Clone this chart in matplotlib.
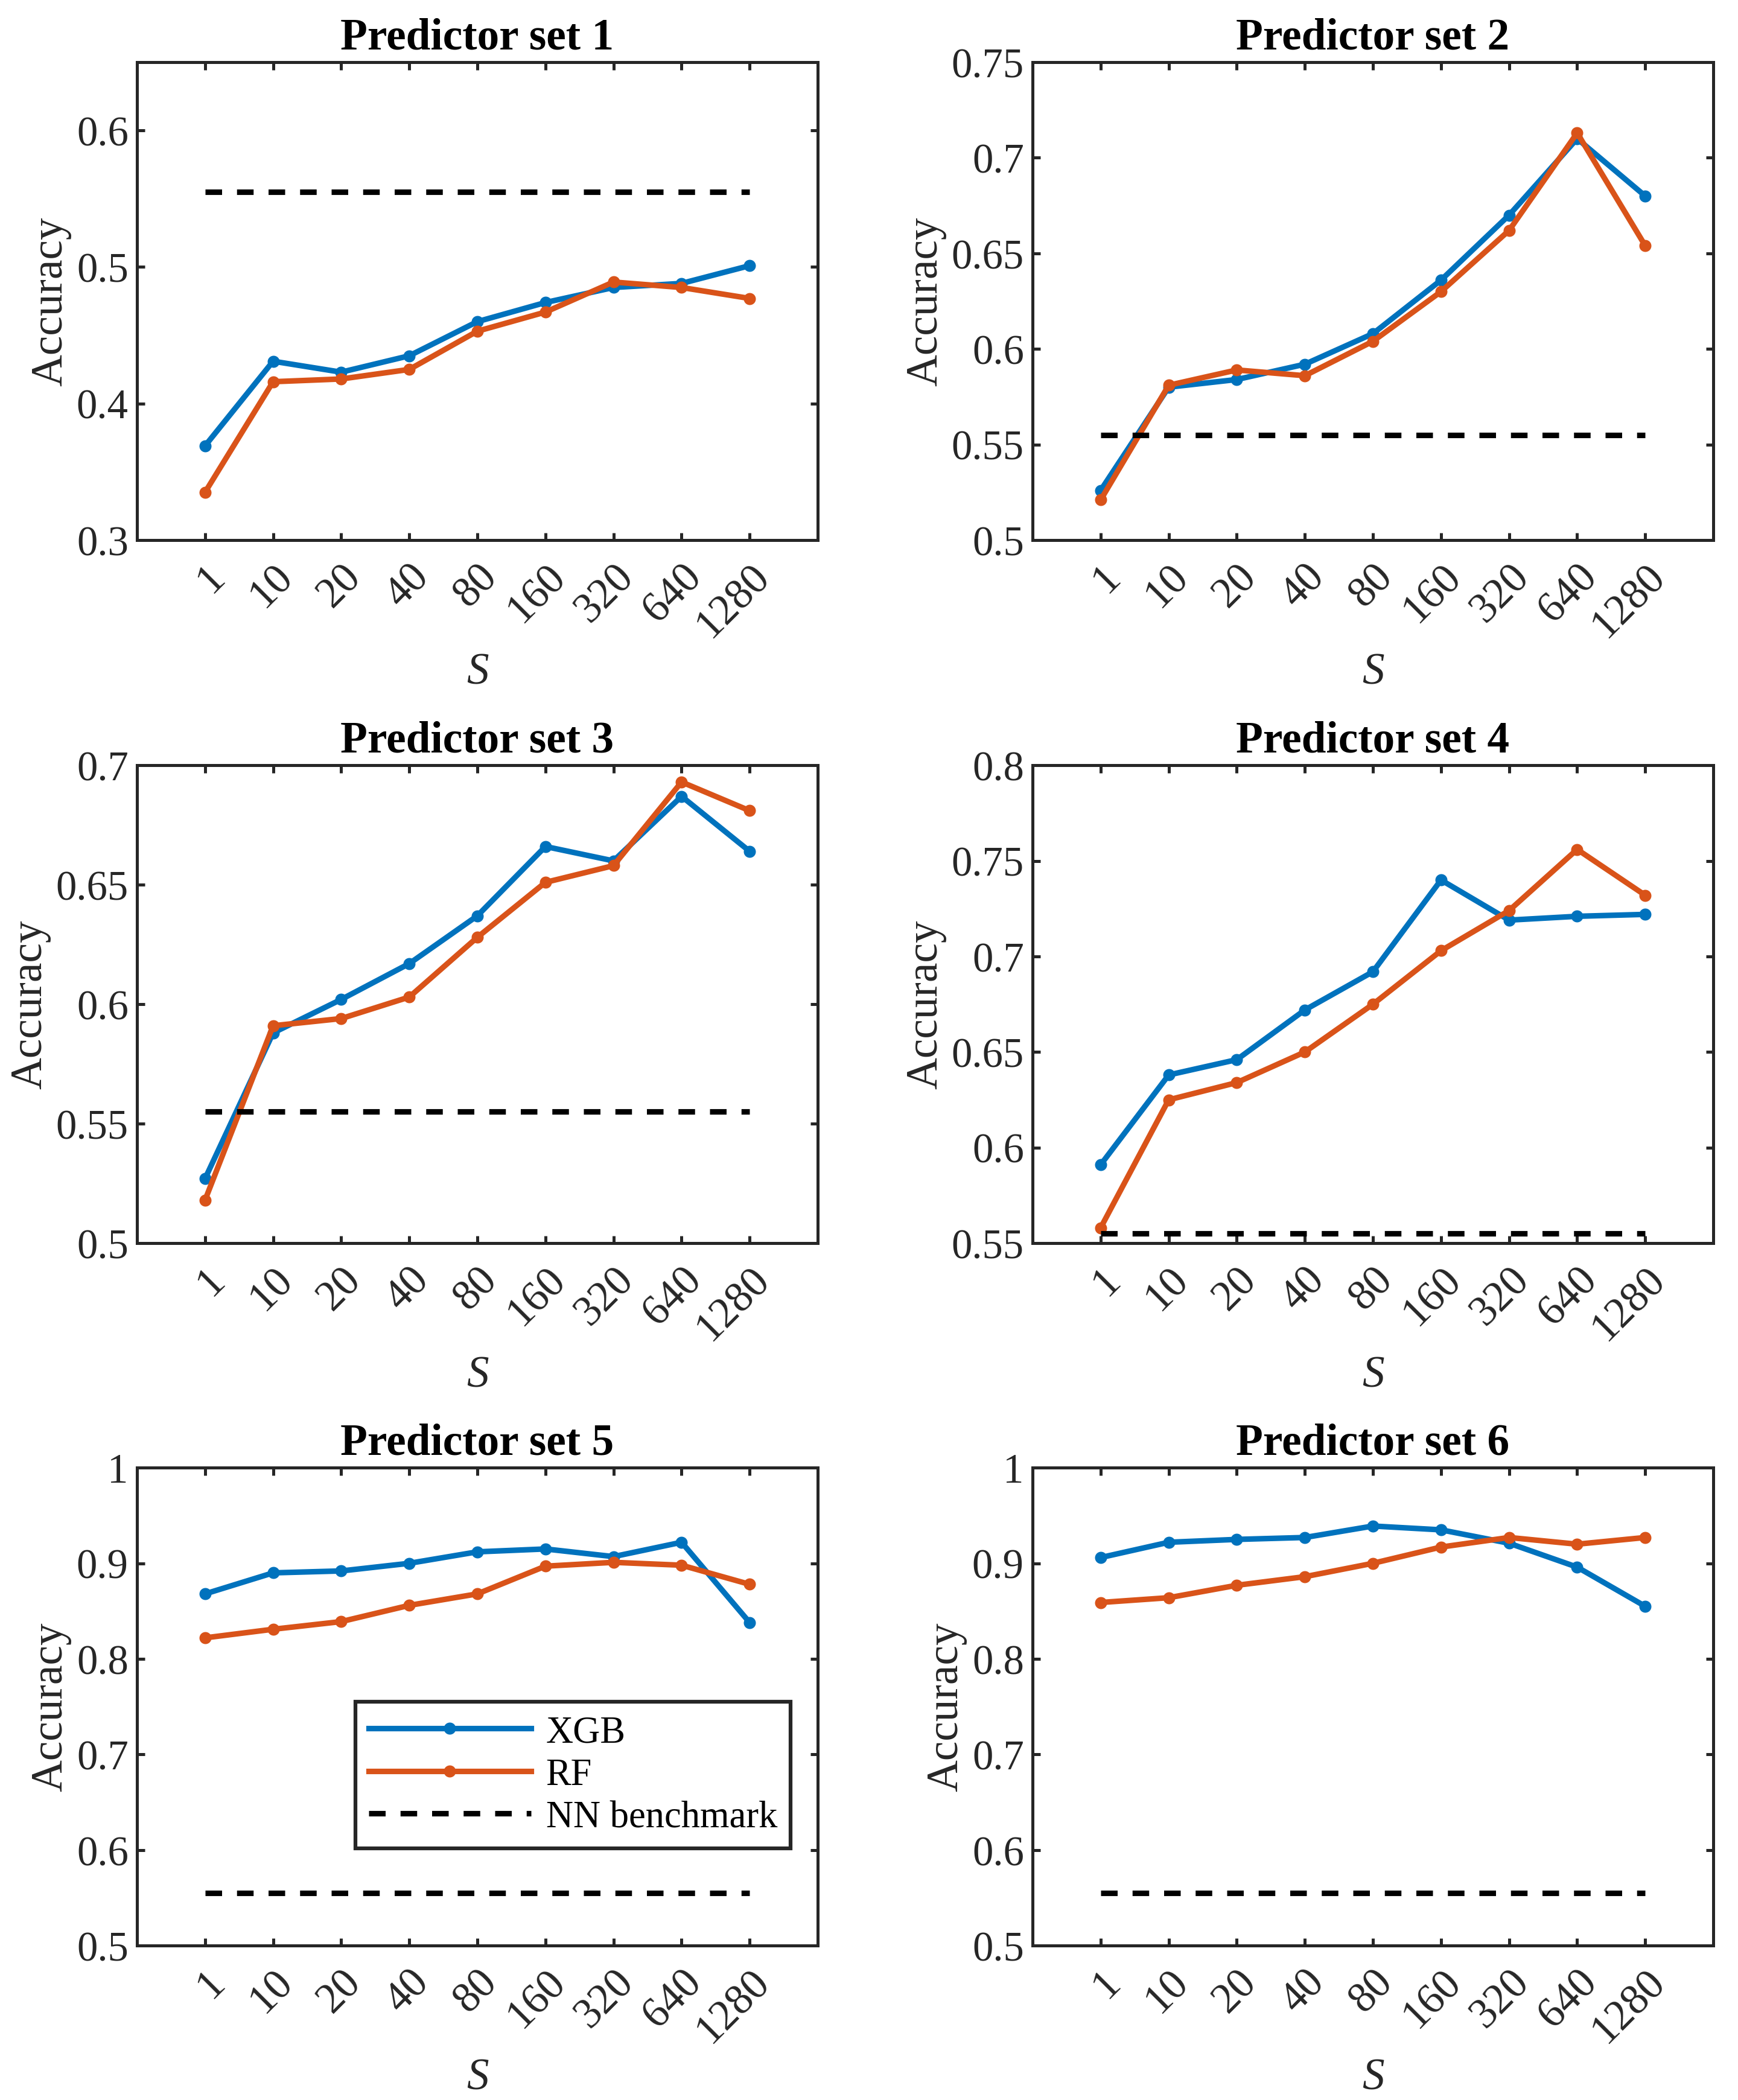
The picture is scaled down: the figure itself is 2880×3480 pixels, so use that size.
import matplotlib
matplotlib.use("Agg")
import matplotlib.pyplot as plt
import matplotlib.transforms as mtransforms

plt.rcParams["font.family"] = ["Liberation Serif", "DejaVu Serif"]

S_LABELS = ["1", "10", "20", "40", "80", "160", "320", "640", "1280"]
NN_BENCH = 0.555

XGB = [
    [0.369, 0.431, 0.423, 0.435, 0.460, 0.474, 0.485, 0.488, 0.501],
    [0.526, 0.580, 0.584, 0.592, 0.608, 0.636, 0.670, 0.710, 0.680],
    [0.527, 0.588, 0.602, 0.617, 0.637, 0.666, 0.660, 0.687, 0.664],
    [0.591, 0.638, 0.646, 0.672, 0.692, 0.740, 0.719, 0.721, 0.722],
    [0.868, 0.890, 0.892, 0.900, 0.912, 0.915, 0.907, 0.922, 0.838],
    [0.906, 0.922, 0.925, 0.927, 0.939, 0.935, 0.921, 0.896, 0.855],
]
RF = [
    [0.335, 0.416, 0.418, 0.425, 0.453, 0.467, 0.489, 0.485, 0.477],
    [0.521, 0.581, 0.589, 0.586, 0.604, 0.630, 0.662, 0.713, 0.654],
    [0.518, 0.591, 0.594, 0.603, 0.628, 0.651, 0.658, 0.693, 0.681],
    [0.558, 0.625, 0.634, 0.650, 0.675, 0.703, 0.724, 0.756, 0.732],
    [0.822, 0.831, 0.839, 0.856, 0.868, 0.897, 0.901, 0.898, 0.878],
    [0.859, 0.864, 0.877, 0.886, 0.900, 0.917, 0.927, 0.920, 0.927],
]
YLIMS = [(0.3, 0.65), (0.5, 0.75), (0.5, 0.7), (0.55, 0.8), (0.5, 1.0), (0.5, 1.0)]
YSTEPS = [0.1, 0.05, 0.05, 0.05, 0.1, 0.1]

BLUE = "#0072BD"
ORANGE = "#D95319"
AX_COL = "#262626"

fig = plt.figure(figsize=(9.6, 11.6033), dpi=300)

lefts = [0.0788, 0.5941]
bottoms = [0.7426, 0.4079, 0.0735]
w, h = 0.3917, 0.2275

x = list(range(1, len(S_LABELS) + 1))

for i in range(6):
    r, c = divmod(i, 2)
    ax = fig.add_axes([lefts[c], bottoms[r], w, h])
    l1, = ax.plot(x, XGB[i], color=BLUE, lw=2.2, marker="o", ms=4.8, mew=0, label="XGB")
    l2, = ax.plot(x, RF[i], color=ORANGE, lw=2.2, marker="o", ms=4.8, mew=0, label="RF")
    l3, = ax.plot(x, [NN_BENCH] * len(x), color="black", lw=2.2, dashes=(3.0, 2.7),
                  label="NN benchmark")

    ax.set_xlim(0, 10)
    lo, hi = YLIMS[i]
    n = int((hi - lo) / YSTEPS[i] + 1e-6)
    ticks = [round(lo + k * YSTEPS[i], 3) for k in range(n + 1)]
    ax.set_yticks(ticks)
    ax.set_yticklabels([f"{t:g}" for t in ticks])
    ax.set_ylim(lo, hi)
    ax.set_xticks(x)
    ax.set_xticklabels(S_LABELS, rotation=45, ha="right", va="top", rotation_mode="anchor")
    off = mtransforms.ScaledTranslation(38 / 300, 0, fig.dpi_scale_trans)
    for lab in ax.get_xticklabels():
        lab.set_transform(lab.get_transform() + off)

    ax.tick_params(direction="in", length=3, width=1.2, colors=AX_COL, labelsize=16.5,
                   top=True, right=True)
    ax.tick_params(axis="x", labelsize=17, pad=6.5)
    ax.tick_params(axis="y", pad=3.4)
    for sp in ax.spines.values():
        sp.set_linewidth(1.2)
        sp.set_color(AX_COL)

    ax.set_title(f"Predictor set {i + 1}", fontsize=17.6, fontweight="bold", pad=5.5)
    ax.set_ylabel("Accuracy", fontsize=17.6, color=AX_COL, labelpad=2)
    ax.set_xlabel("S", fontsize=17.6, fontstyle="italic", color=AX_COL)
    ax.xaxis.set_label_coords(0.5, -0.235)

    if i == 4:
        leg = ax.legend(handles=[l1, l2, l3], loc="upper right", bbox_to_anchor=(0.96, 0.51),
                        borderaxespad=0, fontsize=15, handlelength=4.3, handletextpad=0.4,
                        labelspacing=0.2, borderpad=0.35, fancybox=False, framealpha=1,
                        edgecolor=AX_COL, numpoints=1)
        leg.get_frame().set_linewidth(1.5)

fig.savefig("out.png", dpi=300)
